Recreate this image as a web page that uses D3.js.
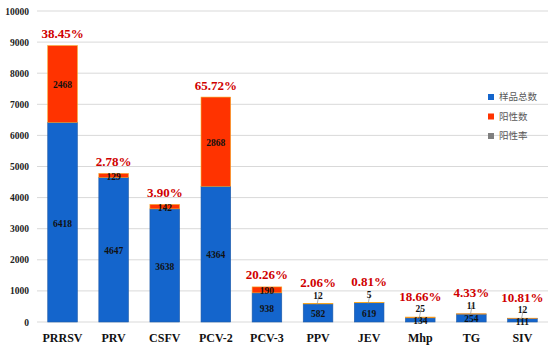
<!DOCTYPE html>
<html>
<head>
    <meta charset="utf-8">
    <script src="https://d3js.org/d3.v7.min.js"></script>
    <style>
        body { margin: 0; background: #fff; }
        .serif { font-family: "Liberation Serif", "Times New Roman", Times, "DejaVu Serif", serif; font-weight: bold; }
    </style>
</head>
<body>
<script type="text/javascript">
    const w = 554;
    const h = 354;

    // data
    const categories = ['PRRSV', 'PRV', 'CSFV', 'PCV-2', 'PCV-3', 'PPV', 'JEV', 'Mhp', 'TG', 'SIV'];
    const samples = [6418, 4647, 3638, 4364, 938, 582, 619, 134, 254, 111];
    const positives = [2468, 129, 142, 2868, 190, 12, 5, 25, 11, 12];
    const rates = ['38.45%', '2.78%', '3.90%', '65.72%', '20.26%', '2.06%', '0.81%', '18.66%', '4.33%', '10.81%'];
    const yTicks = [0, 1000, 2000, 3000, 4000, 5000, 6000, 7000, 8000, 9000, 10000];
    const seriesNames = ['样品总数', '阳性数', '阳性率'];
    const seriesColors = ['#1465cc', '#ff3300', '#7f7f7f'];

    const data = categories.map((c, i) => ({
        name: c,
        samples: samples[i],
        positives: positives[i],
        rate: rates[i]
    }));

    const svg = d3.select('body').append('svg').attr('width', w).attr('height', h);

    const xScale = d3.scaleBand()
        .domain(categories)
        .range([37, 548])
        .paddingInner(0.42)
        .paddingOuter(0.21);

    const yScale = d3.scaleLinear()
        .domain([0, 10000])
        .range([322, 11]);

    // gridlines
    svg.append('g')
        .selectAll('line')
        .data(yTicks.slice(1))
        .enter()
        .append('line')
        .attr('x1', 37)
        .attr('x2', 548)
        .attr('y1', d => yScale(d))
        .attr('y2', d => yScale(d))
        .attr('stroke', '#d9d9d9')
        .attr('stroke-width', 1);

    // y axis labels
    const yAxis = d3.axisLeft(yScale)
        .tickValues(yTicks)
        .tickFormat(d3.format('d'))
        .tickSize(0)
        .tickPadding(8);
    const gy = svg.append('g')
        .attr('transform', 'translate(37,0)')
        .call(yAxis)
        .attr('font-family', null);
    gy.select('.domain').remove();
    gy.selectAll('text')
        .attr('class', 'serif')
        .style('font-size', '9.5px')
        .attr('fill', '#222');

    // baseline
    svg.append('line')
        .attr('x1', 37).attr('x2', 548)
        .attr('y1', yScale(0)).attr('y2', yScale(0))
        .attr('stroke', '#d9d9d9');

    // blue bars
    svg.selectAll('rect.samples')
        .data(data)
        .enter()
        .append('rect')
        .attr('class', 'samples')
        .attr('x', d => xScale(d.name))
        .attr('width', xScale.bandwidth())
        .attr('y', d => yScale(d.samples))
        .attr('height', d => yScale(0) - yScale(d.samples))
        .attr('fill', seriesColors[0])
        .attr('stroke', '#1f5aa6')
        .attr('stroke-width', 0.6);

    // red bars stacked on top
    svg.selectAll('rect.pos')
        .data(data)
        .enter()
        .append('rect')
        .attr('class', 'pos')
        .attr('x', d => xScale(d.name))
        .attr('width', xScale.bandwidth())
        .attr('y', d => yScale(d.samples + d.positives))
        .attr('height', d => yScale(d.samples) - yScale(d.samples + d.positives))
        .attr('fill', seriesColors[1])
        .attr('stroke', '#f5a623')
        .attr('stroke-width', 0.6);

    const cx = d => xScale(d.name) + xScale.bandwidth() / 2;
    const small = d => d.positives < 100;

    // sample labels
    svg.selectAll('text.samples')
        .data(data)
        .enter()
        .append('text')
        .attr('class', 'samples serif')
        .attr('x', cx)
        .attr('y', d => (yScale(0) + yScale(d.samples)) / 2 + 1)
        .attr('dy', '0.35em')
        .attr('text-anchor', 'middle')
        .style('font-size', '9.5px')
        .attr('fill', '#111')
        .text(d => d.samples);

    // leader lines for the tiny positive segments
    svg.selectAll('line.leader')
        .data(data.filter(small))
        .enter()
        .append('line')
        .attr('class', 'leader')
        .attr('x1', d => cx(d) + 1)
        .attr('x2', d => cx(d) - 1)
        .attr('y1', d => yScale(d.samples + d.positives) - 9)
        .attr('y2', d => yScale(d.samples + d.positives) + 1)
        .attr('stroke', '#8c8c8c')
        .attr('stroke-width', 0.7);

    // positive labels
    svg.selectAll('text.pos')
        .data(data)
        .enter()
        .append('text')
        .attr('class', 'pos serif')
        .attr('x', cx)
        .attr('y', d => small(d)
            ? yScale(d.samples + d.positives) - 8
            : (yScale(d.samples) + yScale(d.samples + d.positives)) / 2 + 1)
        .attr('dy', '0.35em')
        .attr('text-anchor', 'middle')
        .style('font-size', '9.5px')
        .attr('fill', '#111')
        .text(d => d.positives);

    // rate labels
    svg.selectAll('text.rate')
        .data(data)
        .enter()
        .append('text')
        .attr('class', 'rate serif')
        .attr('x', cx)
        .attr('y', d => yScale(d.samples + d.positives) - (small(d) ? 21 : 12))
        .attr('dy', '0.35em')
        .attr('text-anchor', 'middle')
        .style('font-size', '13px')
        .attr('fill', '#d00000')
        .text(d => d.rate);

    // category axis
    svg.selectAll('text.cat')
        .data(categories)
        .enter()
        .append('text')
        .attr('class', 'cat serif')
        .attr('x', d => xScale(d) + xScale.bandwidth() / 2)
        .attr('y', 338)
        .attr('dy', '0.35em')
        .attr('text-anchor', 'middle')
        .style('font-size', '12px')
        .attr('fill', '#111')
        .text(d => d);

    // legend
    const legend = svg.append('g').attr('transform', 'translate(488,97)');
    seriesNames.forEach((s, i) => {
        legend.append('rect')
            .attr('x', 0)
            .attr('y', i * 19.5 - 3)
            .attr('width', 6)
            .attr('height', 6)
            .attr('fill', seriesColors[i]);
        legend.append('text')
            .attr('x', 11)
            .attr('y', i * 19.5)
            .attr('dy', '0.35em')
            .attr('font-family', '"Noto Sans CJK SC", sans-serif')
            .attr('font-size', '9.5px')
            .attr('fill', '#595959')
            .text(s);
    });
</script>
</body>
</html>
